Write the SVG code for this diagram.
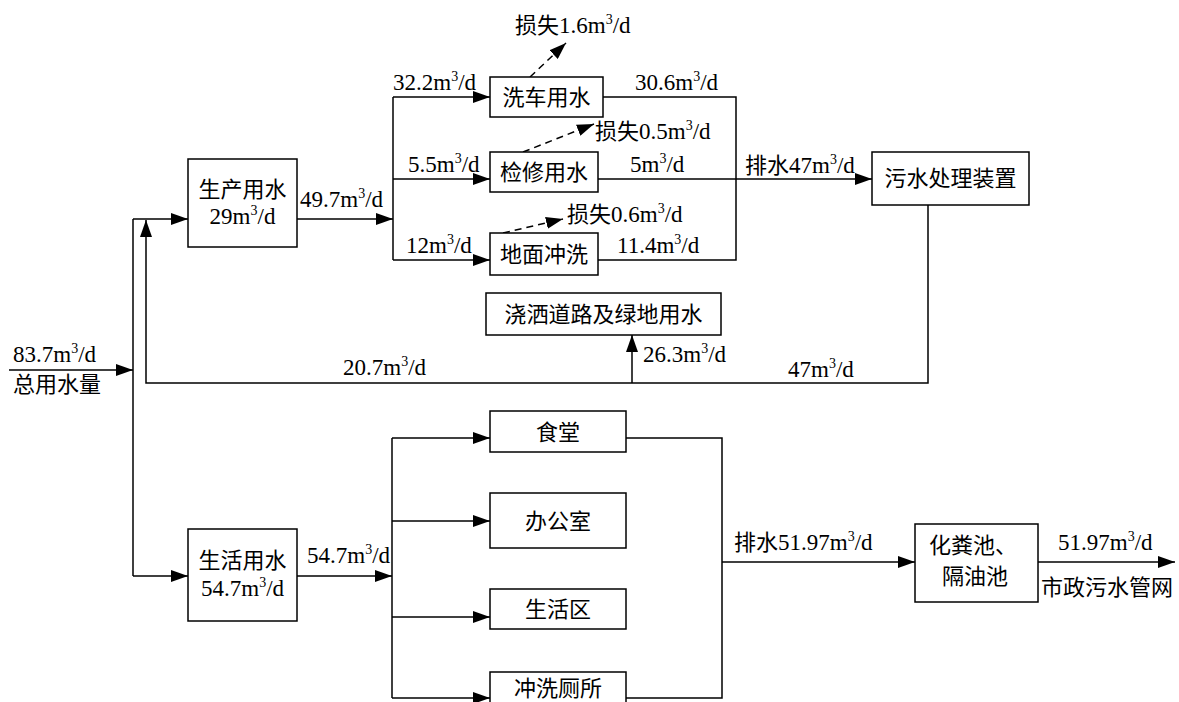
<svg xmlns="http://www.w3.org/2000/svg" width="1179" height="702" viewBox="0 0 1179 702">
<style>
.t{font-family:"Noto Sans CJK SC",sans-serif;font-size:22px;fill:#000}
.n{font-family:"Liberation Serif",serif;font-size:23px}
.s{font-family:"Liberation Serif",serif;font-size:14px}
.m{text-anchor:middle}
.b{fill:#fff;stroke:#000;stroke-width:1.5}
.c{fill:none;stroke:#000;stroke-width:1.5}
.d{fill:none;stroke:#000;stroke-width:1.5;stroke-dasharray:7 5}
</style>
<defs>
<marker id="a" markerUnits="userSpaceOnUse" markerWidth="17" markerHeight="12" refX="17" refY="6" orient="auto"><path d="M0,0 L17,6 L0,12 z" fill="#000"/></marker>
</defs>
<rect width="1179" height="702" fill="#fff"/>
<g id="connectors">
<path class="c" d="M9,370 H133" marker-end="url(#a)"/>
<path class="c" d="M133,219 V576"/>
<path class="c" d="M133,219 H188" marker-end="url(#a)"/>
<path class="c" d="M133,576 H188" marker-end="url(#a)"/>
<path class="c" d="M297,219 H393" marker-end="url(#a)"/>
<path class="c" d="M393,97 V260"/>
<path class="c" d="M393,97 H490" marker-end="url(#a)"/>
<path class="c" d="M393,179 H490" marker-end="url(#a)"/>
<path class="c" d="M393,260 H490" marker-end="url(#a)"/>
<path class="c" d="M603,97 H736 V260 H598"/>
<path class="c" d="M598,179 H872" marker-end="url(#a)"/>
<path class="c" d="M928,205 V383 H146 V220" marker-end="url(#a)"/>
<path class="c" d="M632,383 V335" marker-end="url(#a)"/>
<path class="d" d="M530,77 L566,43" marker-end="url(#a)"/>
<path class="d" d="M523,152 L594,124" marker-end="url(#a)"/>
<path class="d" d="M503,233 L563,219" marker-end="url(#a)"/>
<path class="c" d="M297,576 H392" marker-end="url(#a)"/>
<path class="c" d="M392,438 V698"/>
<path class="c" d="M392,438 H490" marker-end="url(#a)"/>
<path class="c" d="M392,521 H490" marker-end="url(#a)"/>
<path class="c" d="M392,617 H490" marker-end="url(#a)"/>
<path class="c" d="M392,698 H490" marker-end="url(#a)"/>
<path class="c" d="M626,438 H722 V698 H626"/>
<path class="c" d="M722,562 H915" marker-end="url(#a)"/>
<path class="c" d="M1038,562 H1175" marker-end="url(#a)"/>
</g>
<g id="labels">
<text class="t" x="515" y="33">损失<tspan class="n">1.6m</tspan><tspan class="s" dy="-9">3</tspan><tspan class="n" dy="9">/d</tspan></text>
<text class="t" x="393" y="90"><tspan class="n">32.2m</tspan><tspan class="s" dy="-9">3</tspan><tspan class="n" dy="9">/d</tspan></text>
<text class="t" x="635" y="90"><tspan class="n">30.6m</tspan><tspan class="s" dy="-9">3</tspan><tspan class="n" dy="9">/d</tspan></text>
<text class="t" x="595" y="139">损失<tspan class="n">0.5m</tspan><tspan class="s" dy="-9">3</tspan><tspan class="n" dy="9">/d</tspan></text>
<text class="t" x="408" y="172"><tspan class="n">5.5m</tspan><tspan class="s" dy="-9">3</tspan><tspan class="n" dy="9">/d</tspan></text>
<text class="t" x="630" y="172"><tspan class="n">5m</tspan><tspan class="s" dy="-9">3</tspan><tspan class="n" dy="9">/d</tspan></text>
<text class="t" x="745" y="173">排水<tspan class="n">47m</tspan><tspan class="s" dy="-9">3</tspan><tspan class="n" dy="9">/d</tspan></text>
<text class="t" x="567" y="222">损失<tspan class="n">0.6m</tspan><tspan class="s" dy="-9">3</tspan><tspan class="n" dy="9">/d</tspan></text>
<text class="t" x="406" y="253"><tspan class="n">12m</tspan><tspan class="s" dy="-9">3</tspan><tspan class="n" dy="9">/d</tspan></text>
<text class="t" x="617" y="253"><tspan class="n">11.4m</tspan><tspan class="s" dy="-9">3</tspan><tspan class="n" dy="9">/d</tspan></text>
<text class="t" x="300" y="207"><tspan class="n">49.7m</tspan><tspan class="s" dy="-9">3</tspan><tspan class="n" dy="9">/d</tspan></text>
<text class="t" x="13" y="362"><tspan class="n">83.7m</tspan><tspan class="s" dy="-9">3</tspan><tspan class="n" dy="9">/d</tspan></text>
<text class="t" x="13" y="392">总用水量</text>
<text class="t" x="343" y="375"><tspan class="n">20.7m</tspan><tspan class="s" dy="-9">3</tspan><tspan class="n" dy="9">/d</tspan></text>
<text class="t" x="643" y="362"><tspan class="n">26.3m</tspan><tspan class="s" dy="-9">3</tspan><tspan class="n" dy="9">/d</tspan></text>
<text class="t" x="788" y="377"><tspan class="n">47m</tspan><tspan class="s" dy="-9">3</tspan><tspan class="n" dy="9">/d</tspan></text>
<text class="t" x="307" y="563"><tspan class="n">54.7m</tspan><tspan class="s" dy="-9">3</tspan><tspan class="n" dy="9">/d</tspan></text>
<text class="t" x="734" y="550">排水<tspan class="n">51.97m</tspan><tspan class="s" dy="-9">3</tspan><tspan class="n" dy="9">/d</tspan></text>
<text class="t" x="1058" y="550"><tspan class="n">51.97m</tspan><tspan class="s" dy="-9">3</tspan><tspan class="n" dy="9">/d</tspan></text>
<text class="t" x="1041" y="595">市政污水管网</text>
</g>
<g id="n-shengchan"><rect class="b" x="188" y="159" width="109" height="88"/><text class="t m" x="242.5" y="197">生产用水</text><text class="t m" x="242.5" y="224"><tspan class="n">29m</tspan><tspan class="s" dy="-9">3</tspan><tspan class="n" dy="9">/d</tspan></text></g>
<g id="n-xiche"><rect class="b" x="490" y="77" width="113" height="40"/><text class="t m" x="546.5" y="105">洗车用水</text></g>
<g id="n-jianxiu"><rect class="b" x="490" y="152" width="108" height="40"/><text class="t m" x="544" y="180">检修用水</text></g>
<g id="n-dimian"><rect class="b" x="490" y="233" width="108" height="42"/><text class="t m" x="544" y="262">地面冲洗</text></g>
<g id="n-wushui"><rect class="b" x="872" y="152" width="157" height="53"/><text class="t m" x="950.5" y="186">污水处理装置</text></g>
<g id="n-jiaosa"><rect class="b" x="486" y="293" width="235" height="42"/><text class="t m" x="603.5" y="322">浇洒道路及绿地用水</text></g>
<g id="n-shenghuo"><rect class="b" x="188" y="529" width="109" height="92"/><text class="t m" x="242.5" y="568">生活用水</text><text class="t m" x="242.5" y="596"><tspan class="n">54.7m</tspan><tspan class="s" dy="-9">3</tspan><tspan class="n" dy="9">/d</tspan></text></g>
<g id="n-shitang"><rect class="b" x="490" y="411" width="136" height="41"/><text class="t m" x="558" y="440">食堂</text></g>
<g id="n-bangong"><rect class="b" x="490" y="493" width="136" height="55"/><text class="t m" x="558" y="529">办公室</text></g>
<g id="n-shenghuoqu"><rect class="b" x="490" y="589" width="136" height="40"/><text class="t m" x="558" y="617">生活区</text></g>
<g id="n-cesuo"><rect class="b" x="490" y="672" width="136" height="40"/><text class="t m" x="558" y="696">冲洗厕所</text></g>
<g id="n-huafen"><rect class="b" x="915" y="524" width="123" height="78"/><text class="t" x="929" y="553" font-size="21">化粪池、</text><text class="t" x="942" y="584" font-size="21">隔油池</text></g>
</svg>
